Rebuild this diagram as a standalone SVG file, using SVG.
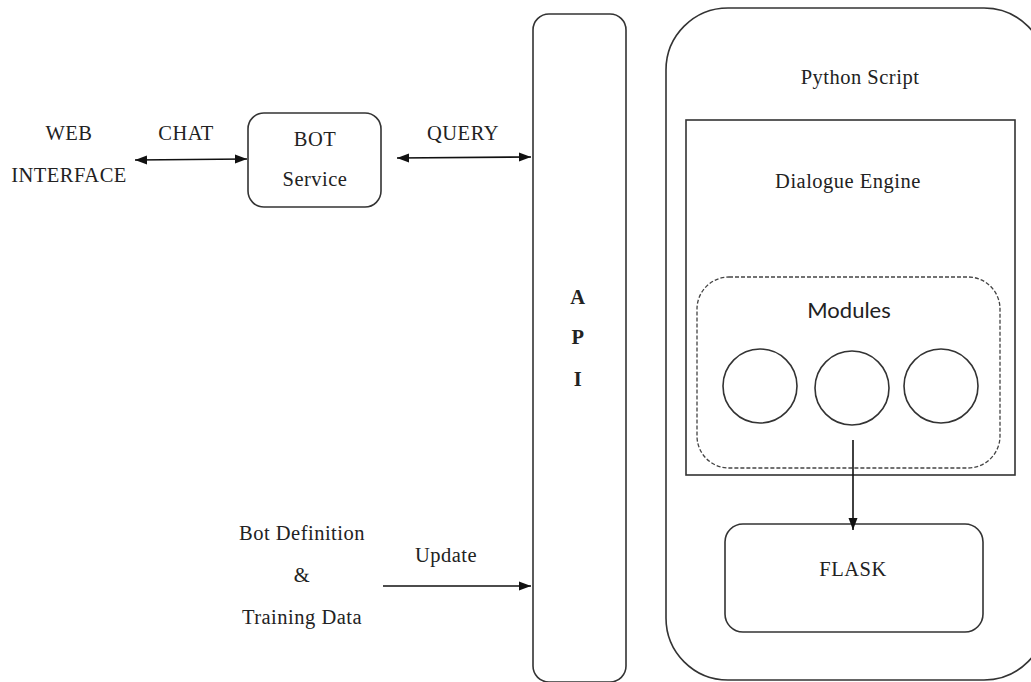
<svg xmlns="http://www.w3.org/2000/svg" width="1031" height="682" viewBox="0 0 1031 682">
  <style>
    .box { fill: #fff; stroke: #333; stroke-width: 1.6; }
    .dash { fill: none; stroke: #444; stroke-width: 1.3; stroke-dasharray: 4 2; }
    .lbl { font-family: "Liberation Serif", "Times New Roman", serif; font-size: 20.5px; letter-spacing: 0.5px; fill: #222; text-anchor: middle; }
    .bold { font-weight: bold; }
    .sans { font-family: Lato, "Open Sans", sans-serif; font-size: 22px; fill: #222; text-anchor: middle; }
    .wire { stroke: #111; stroke-width: 1.6; fill: none; }
  </style>
  <defs>
    <marker id="head" viewBox="0 0 12 10" refX="12" refY="5" markerWidth="12" markerHeight="10" markerUnits="userSpaceOnUse" orient="auto-start-reverse">
      <path d="M0,0.5 L12,5 L0,9.5 Z" fill="#111"/>
    </marker>
  </defs>
  <rect width="1031" height="682" fill="#fff"/>

  <!-- left side labels -->
  <g id="web-interface">
    <text class="lbl" x="69" y="140">WEB</text>
    <text class="lbl" x="69" y="182">INTERFACE</text>
  </g>

  <g id="bot-service">
    <rect class="box" x="248" y="113" width="133" height="94" rx="16"/>
    <text class="lbl" x="315" y="146">BOT</text>
    <text class="lbl" x="315" y="186">Service</text>
  </g>

  <g id="bot-definition">
    <text class="lbl" x="302" y="540">Bot Definition</text>
    <text class="lbl" x="302" y="582">&amp;</text>
    <text class="lbl" x="302" y="624">Training Data</text>
  </g>

  <g id="api">
    <rect class="box" x="533" y="14" width="93" height="668" rx="16"/>
    <text class="lbl bold" x="578" y="304">A</text>
    <text class="lbl bold" x="578" y="344">P</text>
    <text class="lbl bold" x="578" y="386">I</text>
  </g>

  <g id="python-script">
    <rect class="box" x="666" y="8" width="380" height="672" rx="62"/>
    <text class="lbl" x="860" y="84">Python Script</text>
  </g>

  <g id="dialogue-engine">
    <rect class="box" x="686" y="120" width="329" height="355" rx="0"/>
    <text class="lbl" x="848" y="188">Dialogue Engine</text>
  </g>

  <g id="modules">
    <rect class="dash" x="697" y="277" width="303" height="191" rx="32"/>
    <text class="sans" x="849" y="318">Modules</text>
    <circle class="box" cx="760" cy="386" r="37"/>
    <circle class="box" cx="852" cy="388" r="37"/>
    <circle class="box" cx="941" cy="386" r="37"/>
  </g>

  <g id="flask">
    <rect class="box" x="725" y="524" width="258" height="108" rx="18"/>
    <text class="lbl" x="853" y="576">FLASK</text>
  </g>

  <!-- connectors -->
  <g id="connectors">
    <line class="wire" x1="135" y1="160" x2="247" y2="159" marker-start="url(#head)" marker-end="url(#head)"/>
    <text class="lbl" x="186" y="140">CHAT</text>
    <line class="wire" x1="397" y1="158" x2="531" y2="157" marker-start="url(#head)" marker-end="url(#head)"/>
    <text class="lbl" x="463" y="140">QUERY</text>
    <line class="wire" x1="383" y1="586" x2="531" y2="586" marker-end="url(#head)"/>
    <text class="lbl" x="446" y="562">Update</text>
    <line class="wire" x1="853" y1="440" x2="853" y2="530" marker-end="url(#head)"/>
  </g>
</svg>
